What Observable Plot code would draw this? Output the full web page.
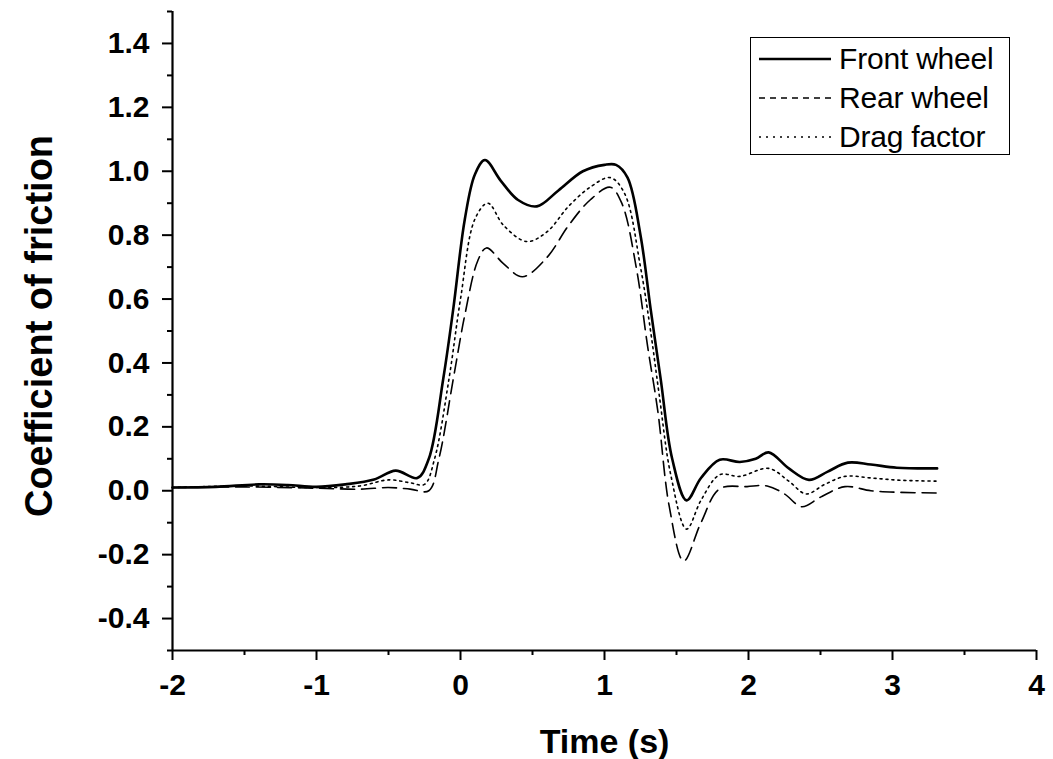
<!DOCTYPE html>
<html>
<head>
<meta charset="utf-8">
<script src="https://cdn.jsdelivr.net/npm/d3@7"></script>
<script src="https://cdn.jsdelivr.net/npm/@observablehq/plot@0.6"></script>
<style>
  body { margin: 0; background: white; }
  #wrap { position: relative; width: 1053px; height: 759px; font-family: "Liberation Sans", Arial, sans-serif; }
  #legend { position: absolute; left: 750px; top: 37px; width: 258px; height: 116px; border: 1.5px solid black; background: white; }
  .row { position: absolute; left: 8px; height: 36px; display: flex; align-items: center; font-size: 30px; letter-spacing: -0.2px; color: black; white-space: nowrap; }
  .row svg { margin-right: 8px; }
</style>
</head>
<body>
<div id="wrap"></div>
<script>
const xTicks = [-2, -1, 0, 1, 2, 3, 4];
const xMinor = [-1.5, -0.5, 0.5, 1.5, 2.5, 3.5];
const yTicks = [-0.4, -0.2, 0.0, 0.2, 0.4, 0.6, 0.8, 1.0, 1.2, 1.4];
const yMinor = [-0.5, -0.3, -0.1, 0.1, 0.3, 0.5, 0.7, 0.9, 1.1, 1.3, 1.5];

const frontT = [-2, -1.7, -1.4, -1.2, -1.0, -0.8, -0.6, -0.45, -0.3, -0.22, -0.12, -0.05, 0.03, 0.1, 0.17, 0.28, 0.4, 0.53, 0.68, 0.85, 1.0, 1.08, 1.16, 1.25, 1.32, 1.39, 1.47, 1.57, 1.67, 1.8, 1.94, 2.05, 2.14, 2.28, 2.42, 2.55, 2.69, 2.85, 3.03, 3.31];
const frontY = [0.01, 0.012, 0.02, 0.018, 0.012, 0.02, 0.035, 0.063, 0.04, 0.1, 0.35, 0.57, 0.85, 0.99, 1.035, 0.97, 0.91, 0.89, 0.94, 1.0, 1.02, 1.02, 0.98, 0.8, 0.57, 0.35, 0.1, -0.03, 0.04, 0.097, 0.09, 0.1, 0.12, 0.07, 0.034, 0.06, 0.088, 0.082, 0.072, 0.07];

const rearT = [-2, -1.5, -1.0, -0.7, -0.5, -0.35, -0.22, -0.15, -0.05, 0.03, 0.12, 0.18, 0.3, 0.43, 0.6, 0.75, 0.9, 1.04, 1.12, 1.22, 1.3, 1.37, 1.45, 1.55, 1.67, 1.8, 1.99, 2.13, 2.25, 2.37, 2.5, 2.67, 2.85, 3.05, 3.31];
const rearY = [0.01, 0.012, 0.008, 0.005, 0.01, 0.005, 0.0, 0.1, 0.35, 0.55, 0.72, 0.76, 0.71, 0.67, 0.73, 0.83, 0.91, 0.95, 0.90, 0.7, 0.45, 0.25, -0.05, -0.22, -0.1, 0.006, 0.013, 0.015, -0.01, -0.05, -0.02, 0.013, 0.0, -0.005, -0.007];

const dragT = [-2, -1.5, -1.0, -0.7, -0.5, -0.35, -0.25, -0.18, -0.08, 0.0, 0.1, 0.19, 0.3, 0.46, 0.6, 0.75, 0.9, 1.04, 1.14, 1.25, 1.32, 1.38, 1.46, 1.57, 1.67, 1.8, 1.94, 2.14, 2.28, 2.4, 2.53, 2.67, 2.85, 3.05, 3.31];
const dragY = [0.01, 0.015, 0.01, 0.015, 0.034, 0.025, 0.02, 0.1, 0.35, 0.6, 0.85, 0.90, 0.83, 0.78, 0.81, 0.89, 0.95, 0.98, 0.93, 0.7, 0.5, 0.3, 0.05, -0.12, -0.03, 0.05, 0.045, 0.07, 0.03, -0.01, 0.02, 0.045, 0.04, 0.033, 0.03];

const seriesNames = ["Front wheel", "Rear wheel", "Drag factor"];
const dashes = [null, "14,7", "2,4"];
const widths = [2.6, 1.6, 1.6];

const toRows = (T, Y) => T.map((t, i) => ({t, y: Y[i]}));
const rows = [toRows(frontT, frontY), toRows(rearT, rearY), toRows(dragT, dragY)];

const font = "Liberation Sans, Arial, sans-serif";

const chart = Plot.plot({
  width: 1053,
  height: 759,
  marginTop: 11,
  marginBottom: 109,
  marginLeft: 172,
  marginRight: 17,
  style: {fontFamily: font, background: "white", color: "black"},
  x: {domain: [-2, 4]},
  y: {domain: [-0.5, 1.5]},
  marks: [
    Plot.axisX({ticks: xMinor, tickSize: 5, tickFormat: () => "", label: null, strokeWidth: 2}),
    Plot.axisX({ticks: xTicks, tickSize: 10, tickPadding: 13, tickFormat: d => String(d), label: null, fontSize: 30, fontWeight: "bold", strokeWidth: 2}),
    Plot.axisY({ticks: yMinor, tickSize: 5, tickFormat: () => "", label: null, strokeWidth: 2}),
    Plot.axisY({ticks: yTicks, tickSize: 10, tickPadding: 13, tickFormat: d => d.toFixed(1), label: null, fontSize: 30, fontWeight: "bold", strokeWidth: 2}),
    Plot.ruleX([-2], {stroke: "black", strokeWidth: 2.2}),
    Plot.ruleY([-0.5], {stroke: "black", strokeWidth: 2.2}),
    ...rows.map((r, i) => Plot.line(r, {x: "t", y: "y", stroke: "black", strokeWidth: widths[i], strokeDasharray: dashes[i], curve: "catmull-rom"})),
    Plot.text(["Coefficient of friction"], {text: d => d, frameAnchor: "left", textAnchor: "middle", lineAnchor: "middle", dx: -133, dy: -5, rotate: -90, fontSize: 38, fontWeight: "bold", fill: "black"}),
    Plot.text(["Time (s)"], {text: d => d, frameAnchor: "bottom", lineAnchor: "middle", dy: 92, fontSize: 34, fontWeight: "bold", fill: "black"})
  ]
});

const wrap = document.getElementById("wrap");
wrap.appendChild(chart);

const legend = document.createElement("div");
legend.id = "legend";
seriesNames.forEach((name, i) => {
  const row = document.createElement("div");
  row.className = "row";
  row.style.top = (3 + i * 39) + "px";
  const ns = "http://www.w3.org/2000/svg";
  const svg = document.createElementNS(ns, "svg");
  svg.setAttribute("width", 72);
  svg.setAttribute("height", 10);
  const ln = document.createElementNS(ns, "line");
  ln.setAttribute("x1", 0); ln.setAttribute("x2", 72);
  ln.setAttribute("y1", 5); ln.setAttribute("y2", 5);
  ln.setAttribute("stroke", "black");
  ln.setAttribute("stroke-width", widths[i]);
  if (dashes[i]) ln.setAttribute("stroke-dasharray", i === 1 ? "6,5" : "2,5");
  svg.appendChild(ln);
  row.appendChild(svg);
  row.appendChild(document.createTextNode(name));
  legend.appendChild(row);
});
wrap.appendChild(legend);
</script>
</body>
</html>
